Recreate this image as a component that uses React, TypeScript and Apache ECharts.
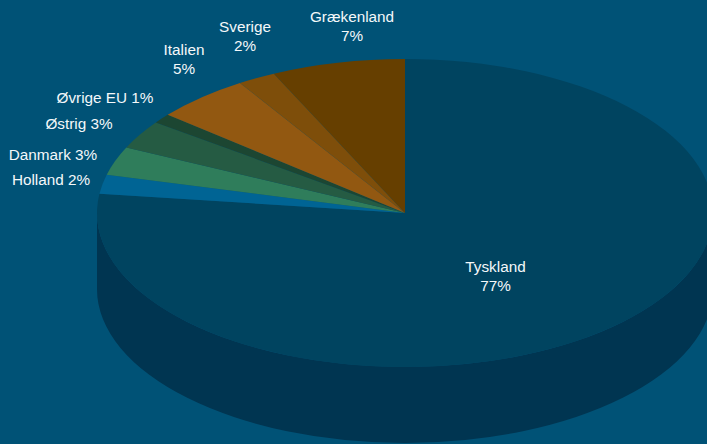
import React, { useEffect, useRef } from "react";
import * as echarts from "echarts";

// Export shares per destination, clockwise from twelve o'clock.
const countries = ["Tyskland", "Holland", "Danmark", "Østrig", "Øvrige EU", "Italien", "Sverige", "Grækenland"];
const shares = [77, 2, 3, 3, 1, 5, 2, 7];
const topColors = ["#004460", "#006494", "#2F7D5B", "#255B43", "#1C4632", "#925811", "#7E4E0A", "#663F00"];
const wallColors = ["#003551", "#004C70", "#235F45", "#1B4533", "#153526", "#6F430D", "#603B07", "#4D3000"];
const stackedLabels = ["Tyskland", "Italien", "Sverige", "Grækenland"];

const WIDTH = 707;
const HEIGHT = 444;
const CX = 405;
const CY = 213;
const RX = 308;
const RY = 154;
const DEPTH = 76;
const TEXT_FONT = '15.3px "Liberation Sans", Arial, sans-serif';

// Label centres in pixels, keyed by country.
const labelCentres: Record<string, [number, number]> = {
  Tyskland: [495.5, 275.5],
  Holland: [51, 179],
  Danmark: [53, 154],
  "Østrig": [79, 123],
  "Øvrige EU": [105, 97],
  Italien: [184, 59],
  Sverige: [245, 36],
  "Grækenland": [352, 26],
};

const total = shares.reduce((sum, v) => sum + v, 0);

function rimPoint(deg: number, drop = 0): [number, number] {
  const rad = (deg * Math.PI) / 180;
  return [CX + RX * Math.sin(rad), CY - RY * Math.cos(rad) + drop];
}

function topPath(from: number, to: number): string {
  const [x0, y0] = rimPoint(from);
  const [x1, y1] = rimPoint(to);
  const large = to - from > 180 ? 1 : 0;
  return `M${CX} ${CY}L${x0} ${y0}A${RX} ${RY} 0 ${large} 1 ${x1} ${y1}Z`;
}

// Only the rim between three and nine o'clock faces the viewer.
function wallPath(from: number, to: number): string | null {
  const a = Math.max(from, 90);
  const b = Math.min(to, 270);
  if (b <= a) return null;
  const [x0, y0] = rimPoint(a);
  const [x1, y1] = rimPoint(b);
  const [x2, y2] = rimPoint(b, DEPTH);
  const [x3, y3] = rimPoint(a, DEPTH);
  const large = b - a > 180 ? 1 : 0;
  return (
    `M${x0} ${y0}A${RX} ${RY} 0 ${large} 1 ${x1} ${y1}` +
    `L${x2} ${y2}A${RX} ${RY} 0 ${large} 0 ${x3} ${y3}Z`
  );
}

function renderSlice(params: any, api: any) {
  const i = params.dataIndex;
  const name = countries[i];
  const before = shares.slice(0, i).reduce((sum, v) => sum + v, 0);
  const from = (before / total) * 360;
  const to = from + (api.value(0) / total) * 360;
  const children: any[] = [];

  const wall = wallPath(from, to);
  if (wall) {
    children.push({ type: "path", shape: { pathData: wall }, style: { fill: wallColors[i] } });
  }
  children.push({ type: "path", shape: { pathData: topPath(from, to) }, style: { fill: topColors[i] } });

  const [lx, ly] = labelCentres[name];
  const value = api.value(0);
  children.push({
    type: "text",
    z2: 10,
    style: {
      x: lx,
      y: ly,
      text: stackedLabels.includes(name) ? `${name}\n${value}%` : `${name} ${value}%`,
      fill: "#F4F8FA",
      font: TEXT_FONT,
      lineHeight: 19,
      align: "center",
      verticalAlign: "middle",
    },
  });
  return { type: "group", children };
}

export default function App() {
  const ref = useRef<HTMLDivElement>(null);

  useEffect(() => {
    const chart = echarts.init(ref.current!, undefined, { renderer: "svg" });
    chart.setOption({
      animation: false,
      backgroundColor: "#005276",
      series: [
        {
          type: "custom",
          coordinateSystem: "none",
          silent: true,
          renderItem: renderSlice,
          data: countries.map((name, i) => ({ name, value: shares[i] })),
        },
      ],
    });
    return () => chart.dispose();
  }, []);

  return (
    <div
      ref={ref}
      style={{ position: "fixed", left: 0, top: 0, width: WIDTH, height: HEIGHT, overflow: "hidden" }}
    />
  );
}
